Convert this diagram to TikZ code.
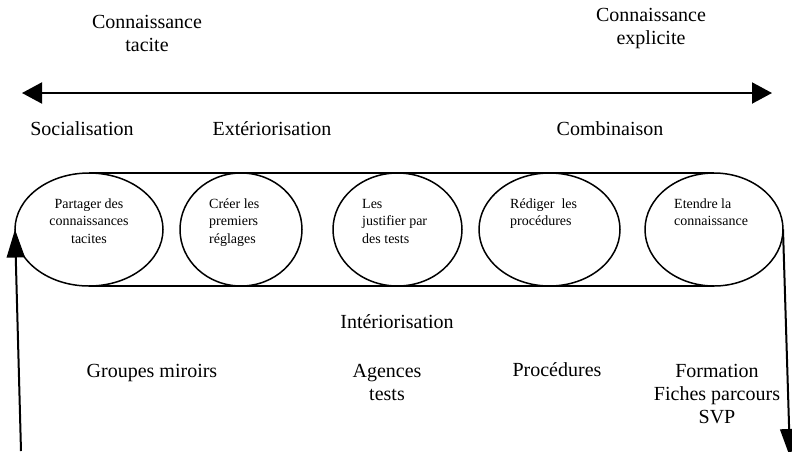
\documentclass[tikz,border=0pt]{standalone}
\usepackage{fontspec}
\setmainfont{Liberation Serif}
\usetikzlibrary{arrows.meta,shapes.geometric}

\tikzset{
  etape/.style={ellipse, draw, line width=1.5pt, inner sep=0pt, outer sep=0pt,
                minimum height=113pt},
  grand/.style={font=\fontsize{20}{23}\selectfont, align=center, inner sep=0pt, anchor=base},
  petit/.style={font=\fontsize{14}{17.5}\selectfont, inner sep=0pt},
  fleche/.style={line width=2pt, -{Triangle[length=28pt,width=18pt]}},
}

\begin{document}
\begin{tikzpicture}[x=1pt,y=-1pt]
    \useasboundingbox (0,0) rectangle (792,451);

    % axe tacite / explicite (base = derniere ligne)
    \node[grand] (tacite) at (147,51) {Connaissance\\tacite};
    \node[grand] (explicite) at (651,44) {Connaissance\\explicite};
    \coordinate (axeG) at (22,93);
    \coordinate (axeD) at (772,93);
    \draw[line width=2pt, {Triangle[length=20pt,width=21pt]}-{Triangle[length=20pt,width=21pt]}] (axeG) -- (axeD);

    \begin{scope}[every node/.style={grand}]
        \node (socia) at (82,135) {Socialisation};
        \node (exter) at (272,135) {Extériorisation};
        \node (combi) at (610,135) {Combinaison};
    \end{scope}

    % les cinq etapes
    \node[etape, minimum width=148pt] (e1) at (89,229.5) {};
    \node[etape, minimum width=122pt] (e2) at (241,229.5) {};
    \node[etape, minimum width=129pt] (e3) at (397.5,229.5) {};
    \node[etape, minimum width=141pt] (e4) at (549.5,229.5) {};
    \node[etape, minimum width=138pt] (e5) at (714,229.5) {};
    \draw[line width=1.5pt] (e1.north) -- (e5.north);
    \draw[line width=1.5pt] (e1.south) -- (e5.south);

    \begin{scope}[every node/.style={petit}]
        \node[align=center, anchor=base] (t1) at (89,243) {Partager des\\connaissances\\tacites};
        \node[align=left, anchor=base west] (t2) at (209,243) {Créer les\\premiers\\réglages};
        \node[align=left, anchor=base west] (t3) at (362,243) {Les\\justifier par\\des tests};
        \node[align=left, anchor=base west] (t4) at (510,225.5) {Rédiger\ \ les\\procédures};
        \node[align=left, anchor=base west] (t5) at (674,225.5) {Etendre la\\connaissance};
    \end{scope}

    \begin{scope}[every node/.style={grand}]
        \node (inter) at (397,328) {Intériorisation};
        \node (groupes) at (152,377) {Groupes miroirs};
        \node (agences) at (387,400) {Agences\\tests};
        \node (proc) at (557,376) {Procédures};
        \node (forma) at (717,423) {Formation\\Fiches parcours\\SVP};
    \end{scope}

    % retour vers la socialisation
    \coordinate (depart) at (21,451);
    \coordinate (sortie) at (790,457);
    \draw[fleche] (depart) -- (e1.west);
    \draw[fleche] (e5.east) -- (sortie);
\end{tikzpicture}
\end{document}
